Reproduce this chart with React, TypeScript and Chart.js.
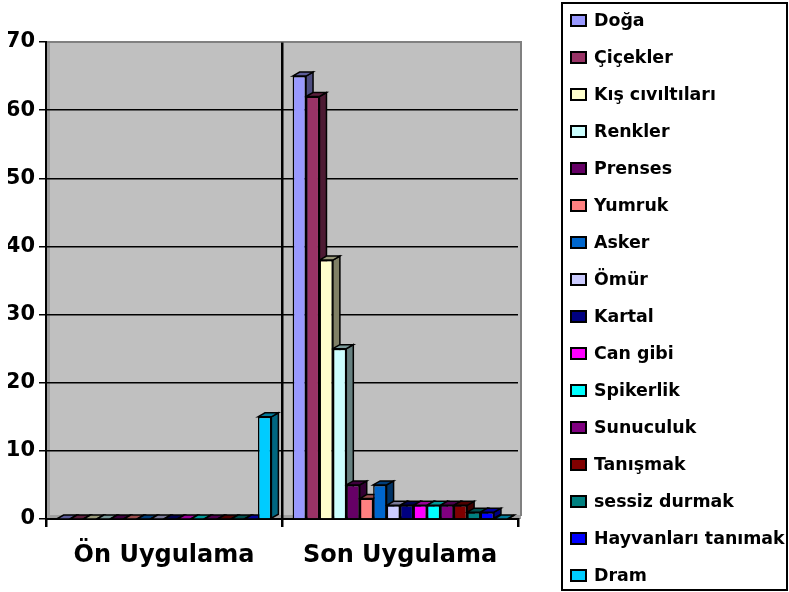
import React, { useEffect, useRef } from "react";
import { Chart, registerables } from "chart.js";

Chart.register(...registerables);

const categories = ["Ön Uygulama", "Son Uygulama"];
const seriesNames = [
  "Doğa",
  "Çiçekler",
  "Kış cıvıltıları",
  "Renkler",
  "Prenses",
  "Yumruk",
  "Asker",
  "Ömür",
  "Kartal",
  "Can gibi",
  "Spikerlik",
  "Sunuculuk",
  "Tanışmak",
  "sessiz durmak",
  "Hayvanları tanımak",
  "Dram",
];
const onValues = [0, 0, 0, 0, 0, 0, 0, 0, 0, 0, 0, 0, 0, 0, 0, 15];
const sonValues = [65, 62, 38, 25, 5, 3, 5, 2, 2, 2, 2, 2, 2, 1, 1, 0];
const seriesColors = [
  "#9999FF",
  "#993366",
  "#FFFFCC",
  "#CCFFFF",
  "#660066",
  "#FF8080",
  "#0066CC",
  "#CCCCFF",
  "#000080",
  "#FF00FF",
  "#00FFFF",
  "#800080",
  "#800000",
  "#008080",
  "#0000FF",
  "#00CCFF",
];
const yTicks = [0, 10, 20, 30, 40, 50, 60, 70];

const FONT = "'DejaVu Sans', sans-serif";

function shade(hex: string, f: number) {
  const n = parseInt(hex.slice(1), 16);
  const r = Math.round(((n >> 16) & 255) * f);
  const g = Math.round(((n >> 8) & 255) * f);
  const b = Math.round((n & 255) * f);
  return `rgb(${r},${g},${b})`;
}

const DX = 7;
const DY = 4;
const WALL = 3;

const backgroundPlugin = {
  id: "wallBackground",
  beforeDraw(chart: any) {
    const { ctx, chartArea } = chart;
    const { left, top, right, bottom } = chartArea;
    ctx.save();
    ctx.fillStyle = "#C0C0C0";
    ctx.fillRect(left, top, right + WALL - left, bottom - top);
    ctx.fillStyle = "#A0A0A0";
    ctx.fillRect(left, top, 4, bottom - top);
    ctx.fillRect(left, bottom - 4, right + WALL - left, 4);
    ctx.strokeStyle = "#808080";
    ctx.lineWidth = 2;
    ctx.beginPath();
    ctx.moveTo(left, top);
    ctx.lineTo(right + WALL, top);
    ctx.lineTo(right + WALL, bottom - 3);
    ctx.stroke();
    ctx.restore();
  },
};

const depthPlugin = {
  id: "barDepth",
  beforeDatasetsDraw(chart: any) {
    const ctx = chart.ctx;
    ctx.save();
    ctx.lineWidth = 1.5;
    ctx.strokeStyle = "#000";
    chart.data.datasets.forEach((ds: any, i: number) => {
      const meta = chart.getDatasetMeta(i);
      if (meta.hidden) return;
      meta.data.forEach((el: any) => {
        const { x, y, base, width } = el.getProps(["x", "y", "base", "width"], true);
        const l = x - width / 2;
        const r = x + width / 2;
        const color = seriesColors[i];
        ctx.fillStyle = shade(color, 0.5);
        ctx.beginPath();
        ctx.moveTo(r, y);
        ctx.lineTo(r + DX, y - DY);
        ctx.lineTo(r + DX, base - DY);
        ctx.lineTo(r, base);
        ctx.closePath();
        ctx.fill();
        ctx.stroke();
        ctx.fillStyle = shade(color, 0.6);
        ctx.beginPath();
        ctx.moveTo(l, y);
        ctx.lineTo(l + DX, y - DY);
        ctx.lineTo(r + DX, y - DY);
        ctx.lineTo(r, y);
        ctx.closePath();
        ctx.fill();
        ctx.stroke();
      });
    });
    ctx.restore();
  },
};

const legendPlugin = {
  id: "boxLegend",
  afterDraw(chart: any) {
    const ctx = chart.ctx;
    ctx.save();
    ctx.strokeStyle = "#000";
    ctx.lineWidth = 2;
    ctx.strokeRect(562, 3, 225, 587);
    ctx.font = `bold 17.4px ${FONT}`;
    ctx.textBaseline = "middle";
    ctx.textAlign = "left";
    chart.data.datasets.forEach((ds: any, i: number) => {
      const cy = 20.5 + i * 37;
      ctx.fillStyle = seriesColors[i];
      ctx.fillRect(571, cy - 5.5, 15, 11);
      ctx.strokeStyle = "#000";
      ctx.lineWidth = 2;
      ctx.strokeRect(571, cy - 5.5, 15, 11);
      ctx.fillStyle = "#000";
      ctx.fillText(ds.label, 594, cy + 1);
    });
    ctx.restore();
  },
};

export default function App() {
  const canvasRef = useRef<HTMLCanvasElement | null>(null);

  useEffect(() => {
    if (!canvasRef.current) return;
    const datasets = seriesNames.map((name, i) => ({
      label: name,
      data: [onValues[i], sonValues[i]],
      backgroundColor: seriesColors[i],
      borderColor: "#000",
      borderWidth: 1.5,
      borderSkipped: "bottom" as const,
    }));
    const chart = new Chart(canvasRef.current, {
      type: "bar",
      data: { labels: categories, datasets },
      options: {
        responsive: false,
        animation: false,
        maintainAspectRatio: false,
        layout: { padding: { left: 8, right: 271, top: 42, bottom: 0 } },
        datasets: {
          bar: { categoryPercentage: 0.91, barPercentage: 1.0 },
        },
        plugins: {
          legend: { display: false },
          tooltip: { enabled: false },
        },
        scales: {
          x: {
            offset: true,
            grid: {
              offset: true,
              color: (c: any) => (c.index === 1 ? "#000" : "rgba(0,0,0,0)"),
              lineWidth: 2.5,
              tickColor: "#000",
              tickLength: 8,
            },
            border: { display: true, color: "#000", width: 2 },
            ticks: {
              color: "#000",
              font: { family: FONT, size: 24, weight: "bold" },
              padding: 14,
            },
            afterFit: (s: any) => {
              s.height = 73;
            },
          },
          y: {
            min: 0,
            max: 70,
            afterBuildTicks: (s: any) => {
              s.ticks = yTicks.map((v) => ({ value: v }));
            },
            grid: {
              color: (c: any) => (c.tick && c.tick.value === 70 ? "#808080" : "#000"),
              lineWidth: 1.5,
              tickColor: "#000",
              tickLength: 7,
            },
            border: { display: true, color: "#000", width: 2 },
            ticks: {
              color: "#000",
              font: { family: FONT, size: 21, weight: "bold" },
              padding: 4,
            },
            afterFit: (s: any) => {
              s.width = 38;
            },
          },
        },
      },
      plugins: [backgroundPlugin, depthPlugin, legendPlugin],
    });
    return () => chart.destroy();
  }, []);

  return (
    <div style={{ position: "fixed", left: 0, top: 0, width: 789, height: 592, background: "#fff" }}>
      <canvas ref={canvasRef} width={789} height={592} style={{ display: "block" }} />
    </div>
  );
}
